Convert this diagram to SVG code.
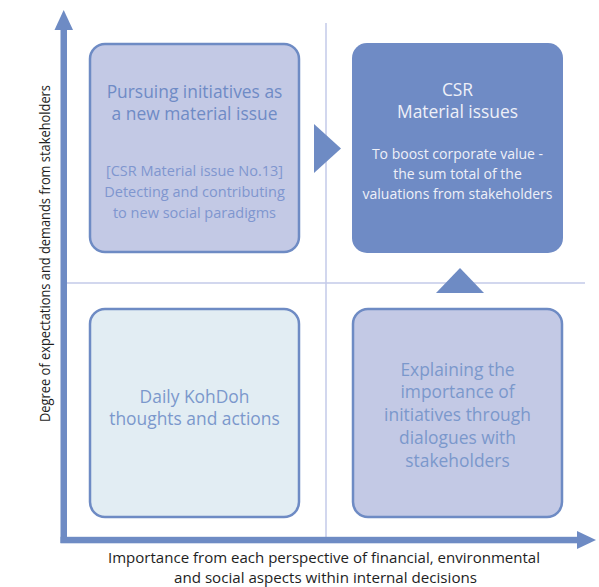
<svg xmlns="http://www.w3.org/2000/svg" width="599" height="587" viewBox="0 0 599 587">
<style>
.axis{fill:#6e8bc4}
.div{stroke:#c3cae8;stroke-width:1.5;fill:none}
.box{stroke:#6e8bc4;stroke-width:2.5}
.t{font-family:"Open Sans","Noto Sans",sans-serif;text-anchor:middle}
.h{font-size:17.4px}
.s{font-size:14.5px}
.s2{font-size:14px}
.lbl{font-family:"Open Sans","Noto Sans",sans-serif;font-size:13.8px;fill:#1e1e1e;text-anchor:middle}
</style>
<rect width="599" height="587" fill="#ffffff"/>
<g id="connectors">
<line class="div" x1="326" y1="23" x2="326" y2="537"/>
<line class="div" x1="66" y1="283" x2="585" y2="283"/>
<polygon class="axis" points="314,124 341,148.5 314,173"/>
<polygon class="axis" points="436,293 460,268 484,293"/>
</g>
<g id="axes">
<rect class="axis" x="60.5" y="28" width="6.5" height="515"/>
<polygon class="axis" points="63.7,10 54.5,30 73,30"/>
<rect class="axis" x="60.5" y="536.8" width="518" height="6.5"/>
<polygon class="axis" points="596,540 577,531 577,549"/>
</g>
<g id="node-top-left">
<rect class="box" x="90" y="44" width="209" height="208" rx="15" fill="#c3c9e5"/>
<text class="t h" fill="#6f8bc5" x="194.5" y="98">Pursuing initiatives as</text>
<text class="t h" fill="#6f8bc5" x="194.5" y="120">a new material issue</text>
<text class="t s" fill="#7f96cf" x="194.5" y="176">[CSR Material issue No.13]</text>
<text class="t s" fill="#7f96cf" x="194.5" y="197">Detecting and contributing</text>
<text class="t s" fill="#7f96cf" x="194.5" y="218">to new social paradigms</text>
</g>
<g id="node-top-right">
<rect x="352" y="43" width="211" height="210" rx="15" fill="#6f8bc5"/>
<text class="t h" fill="#eef0f8" x="457.5" y="96">CSR</text>
<text class="t h" fill="#eef0f8" x="457.5" y="118">Material issues</text>
<text class="t s2" fill="#eef0f8" x="457.5" y="159">To boost corporate value -</text>
<text class="t s2" fill="#eef0f8" x="457.5" y="179">the sum total of the</text>
<text class="t s2" fill="#eef0f8" x="457.5" y="199">valuations from stakeholders</text>
</g>
<g id="node-bottom-left">
<rect class="box" x="90" y="309" width="209" height="208" rx="15" fill="#e2edf3"/>
<text class="t h" fill="#7b98cc" x="194.5" y="403">Daily KohDoh</text>
<text class="t h" fill="#7b98cc" x="194.5" y="425">thoughts and actions</text>
</g>
<g id="node-bottom-right">
<rect class="box" x="353" y="309" width="209" height="208" rx="15" fill="#c3c9e5"/>
<text class="t h" fill="#7b98cc" x="457.5" y="376">Explaining the</text>
<text class="t h" fill="#7b98cc" x="457.5" y="398">importance of</text>
<text class="t h" fill="#7b98cc" x="457.5" y="421">initiatives through</text>
<text class="t h" fill="#7b98cc" x="457.5" y="444">dialogues with</text>
<text class="t h" fill="#7b98cc" x="457.5" y="467">stakeholders</text>
</g>
<g id="labels">
<text class="lbl" x="324" y="563" textLength="432" lengthAdjust="spacingAndGlyphs">Importance from each perspective of financial, environmental</text>
<text class="lbl" x="325.5" y="583" textLength="303" lengthAdjust="spacingAndGlyphs">and social aspects within internal decisions</text>
<text class="lbl" transform="translate(50,253.5) rotate(-90)" x="0" y="0" textLength="337" lengthAdjust="spacingAndGlyphs">Degree of expectations and demands from stakeholders</text>
</g>
</svg>
